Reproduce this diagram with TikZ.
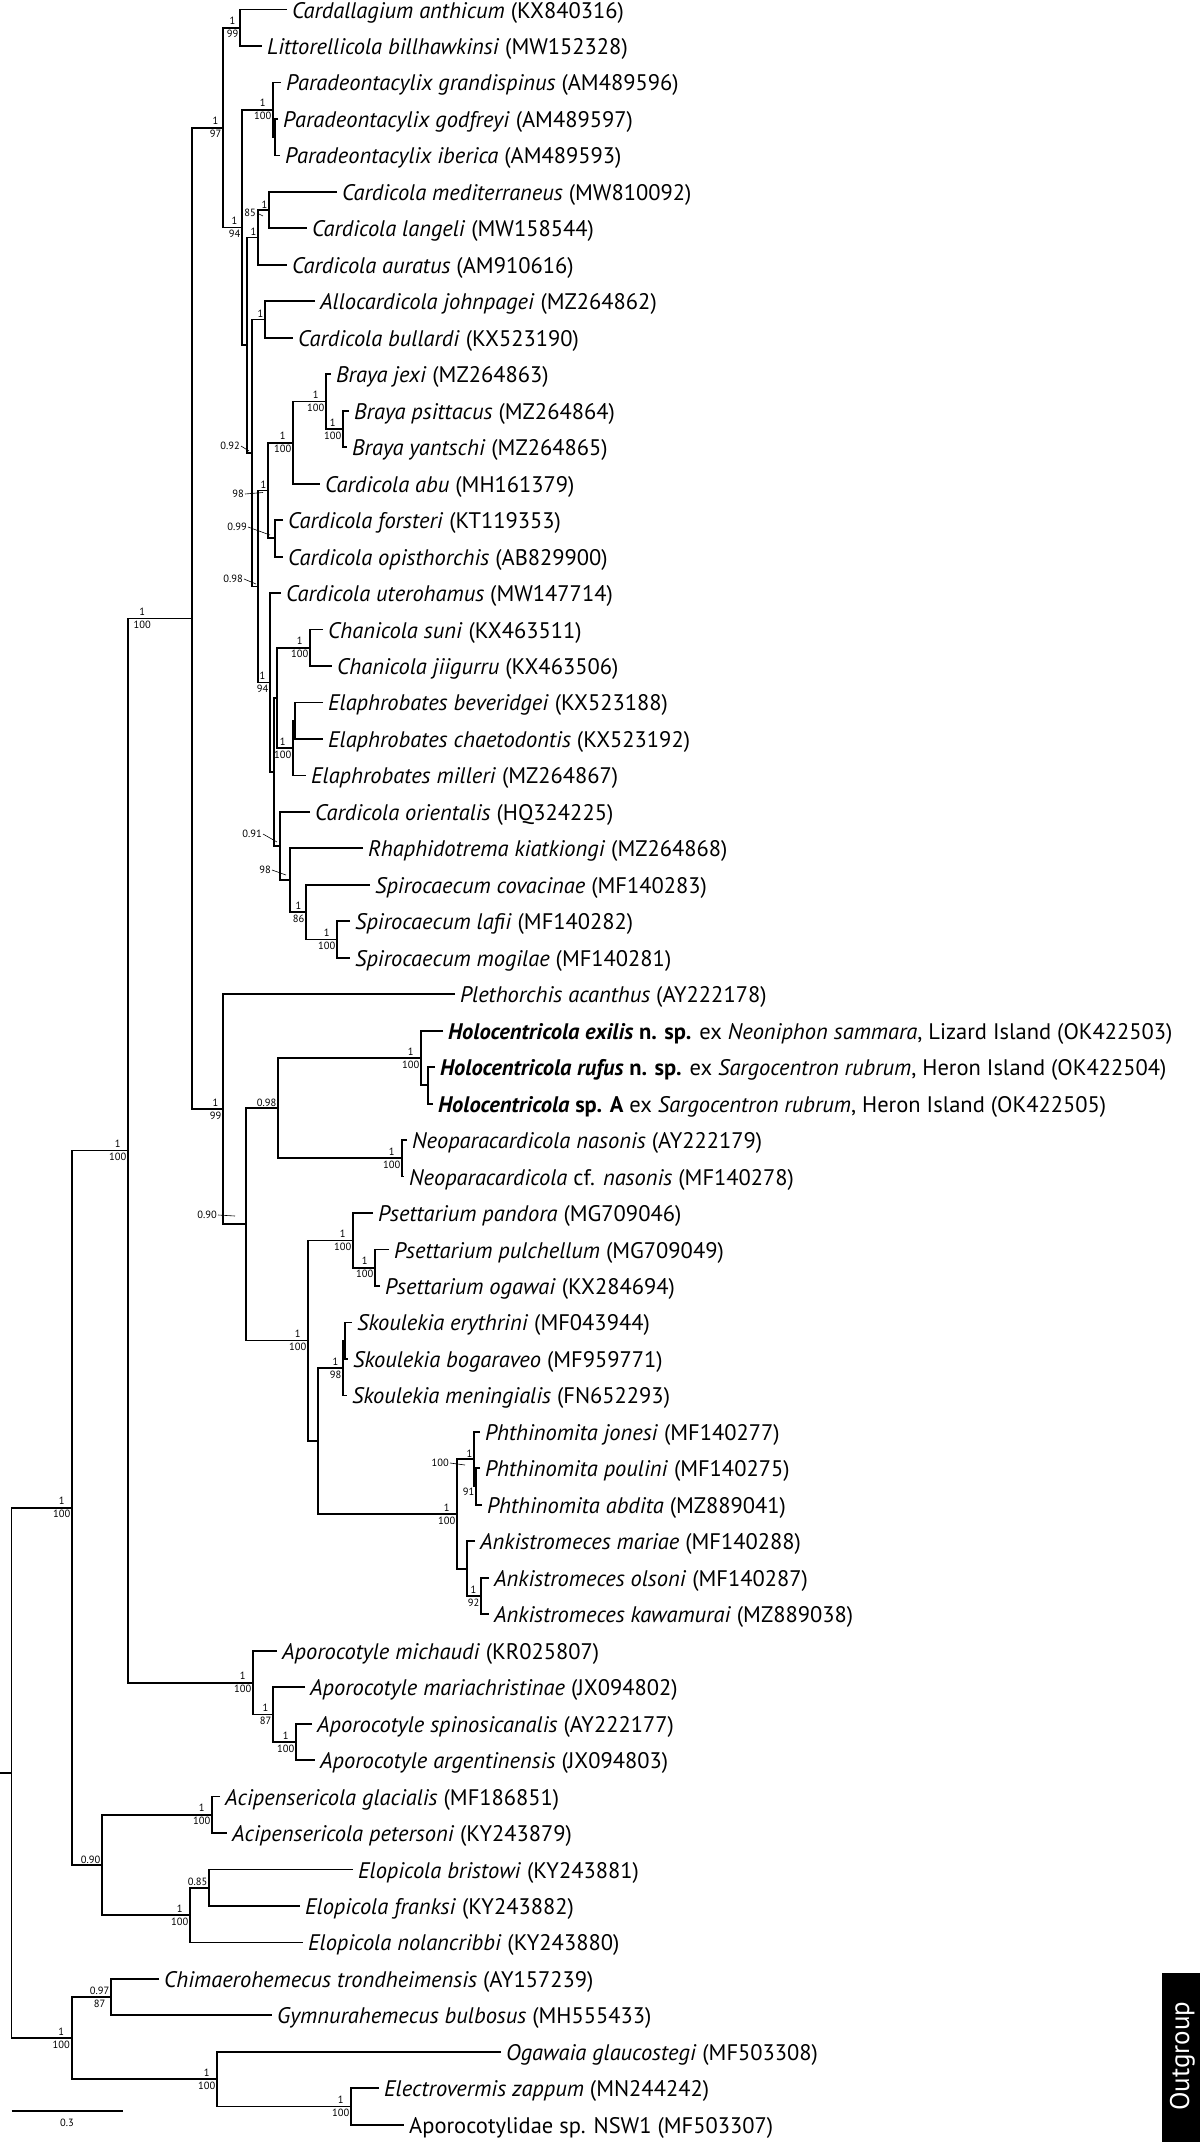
\documentclass[tikz,border=0pt]{standalone}
\usepackage{fontspec}
\setmainfont{PT Sans}
\usepackage{tikz}
\newcommand{\tipfont}{\fontsize{22.5}{25}\selectfont}
\newcommand{\bsfont}{\fontsize{10.5}{13}\selectfont}

\begin{document}
\begin{tikzpicture}[x=1pt,y=1pt,yscale=-1,
  br/.style={line width=1.8pt},
  tip/.style={anchor=west,inner xsep=5pt,inner ysep=0pt,text height=17pt,text depth=0pt,font=\tipfont},
  sp/.style={anchor=east,align=center,inner sep=1.5pt,font=\bsfont},
  pp/.style={anchor=south east,inner sep=1.5pt,font=\bsfont},
  bs/.style={anchor=north east,inner sep=1.5pt,font=\bsfont},
  lbl/.style={anchor=east,inner sep=1pt,font=\bsfont},
  ldr/.style={line width=0.6pt}]
\useasboundingbox (0,0) rectangle (1200,2142);
%Leaves
\path (287,9.5) coordinate (canth) node[tip] (tcanth) {\textit{Cardallagium anthicum} (KX840316)};
\path (262,46.0) coordinate (lbill) node[tip] (tlbill) {\textit{Littorellicola billhawkinsi} (MW152328)};
\path (281,82.4) coordinate (pgran) node[tip] (tpgran) {\textit{Paradeontacylix grandispinus} (AM489596)};
\path (278,118.9) coordinate (pgodf) node[tip] (tpgodf) {\textit{Paradeontacylix godfreyi} (AM489597)};
\path (280,155.4) coordinate (piber) node[tip] (tpiber) {\textit{Paradeontacylix iberica} (AM489593)};
\path (337,191.9) coordinate (cmedi) node[tip] (tcmedi) {\textit{Cardicola mediterraneus} (MW810092)};
\path (307,228.3) coordinate (clang) node[tip] (tclang) {\textit{Cardicola langeli} (MW158544)};
\path (287,264.8) coordinate (caura) node[tip] (tcaura) {\textit{Cardicola auratus} (AM910616)};
\path (315,301.3) coordinate (ajohn) node[tip] (tajohn) {\textit{Allocardicola johnpagei} (MZ264862)};
\path (293,337.7) coordinate (cbull) node[tip] (tcbull) {\textit{Cardicola bullardi} (KX523190)};
\path (331,374.2) coordinate (bjexi) node[tip] (tbjexi) {\textit{Braya jexi} (MZ264863)};
\path (349,410.7) coordinate (bpsit) node[tip] (tbpsit) {\textit{Braya psittacus} (MZ264864)};
\path (347,447.1) coordinate (byant) node[tip] (tbyant) {\textit{Braya yantschi} (MZ264865)};
\path (320,483.6) coordinate (cabu) node[tip] (tcabu) {\textit{Cardicola abu} (MH161379)};
\path (283,520.1) coordinate (cfors) node[tip] (tcfors) {\textit{Cardicola forsteri} (KT119353)};
\path (283,556.6) coordinate (copis) node[tip] (tcopis) {\textit{Cardicola opisthorchis} (AB829900)};
\path (281,593.0) coordinate (cuter) node[tip] (tcuter) {\textit{Cardicola uterohamus} (MW147714)};
\path (323,629.5) coordinate (csuni) node[tip] (tcsuni) {\textit{Chanicola suni} (KX463511)};
\path (332,666.0) coordinate (cjiig) node[tip] (tcjiig) {\textit{Chanicola jiigurru} (KX463506)};
\path (323,702.4) coordinate (ebeve) node[tip] (tebeve) {\textit{Elaphrobates beveridgei} (KX523188)};
\path (323,738.9) coordinate (echae) node[tip] (techae) {\textit{Elaphrobates chaetodontis} (KX523192)};
\path (306,775.4) coordinate (emill) node[tip] (temill) {\textit{Elaphrobates milleri} (MZ264867)};
\path (310,811.8) coordinate (corie) node[tip] (tcorie) {\textit{Cardicola orientalis} (HQ324225)};
\path (363,848.3) coordinate (rkiat) node[tip] (trkiat) {\textit{Rhaphidotrema kiatkiongi} (MZ264868)};
\path (370,884.8) coordinate (scova) node[tip] (tscova) {\textit{Spirocaecum covacinae} (MF140283)};
\path (350,921.3) coordinate (slafi) node[tip] (tslafi) {\textit{Spirocaecum lafii} (MF140282)};
\path (350,957.7) coordinate (smogi) node[tip] (tsmogi) {\textit{Spirocaecum mogilae} (MF140281)};
\path (455,994.2) coordinate (pacan) node[tip] (tpacan) {\textit{Plethorchis acanthus} (AY222178)};
\path (443,1030.7) coordinate (hexil) node[tip] (thexil) {\textbf{\textit{Holocentricola exilis} n. sp.} ex \textit{Neoniphon sammara}, Lizard Island (OK422503)};
\path (435,1067.1) coordinate (hrufu) node[tip] (threfu) {\textbf{\textit{Holocentricola rufus} n. sp.} ex \textit{Sargocentron rubrum}, Heron Island (OK422504)};
\path (433,1103.6) coordinate (hspA) node[tip] (thspA) {\textbf{\textit{Holocentricola} sp. A} ex \textit{Sargocentron rubrum}, Heron Island (OK422505)};
\path (407,1140.1) coordinate (nnaso) node[tip] (tnnaso) {\textit{Neoparacardicola nasonis} (AY222179)};
\path (404,1176.5) coordinate (ncfna) node[tip] (tncfna) {\textit{Neoparacardicola} cf. \textit{nasonis} (MF140278)};
\path (373,1213.0) coordinate (ppand) node[tip] (tppand) {\textit{Psettarium pandora} (MG709046)};
\path (389,1249.5) coordinate (ppulc) node[tip] (tppulc) {\textit{Psettarium pulchellum} (MG709049)};
\path (380,1286.0) coordinate (pogaw) node[tip] (tpogaw) {\textit{Psettarium ogawai} (KX284694)};
\path (352,1322.4) coordinate (seryt) node[tip] (tseryt) {\textit{Skoulekia erythrini} (MF043944)};
\path (348,1358.9) coordinate (sboga) node[tip] (tsboga) {\textit{Skoulekia bogaraveo} (MF959771)};
\path (347,1395.4) coordinate (smeni) node[tip] (tsmeni) {\textit{Skoulekia meningialis} (FN652293)};
\path (480,1431.8) coordinate (pjone) node[tip] (tpjone) {\textit{Phthinomita jonesi} (MF140277)};
\path (480,1468.3) coordinate (ppoul) node[tip] (tppoul) {\textit{Phthinomita poulini} (MF140275)};
\path (482,1504.8) coordinate (pabdi) node[tip] (tpabdi) {\textit{Phthinomita abdita} (MZ889041)};
\path (475,1541.2) coordinate (amari) node[tip] (tamari) {\textit{Ankistromeces mariae} (MF140288)};
\path (489,1577.7) coordinate (aolso) node[tip] (taolso) {\textit{Ankistromeces olsoni} (MF140287)};
\path (489,1614.2) coordinate (akawa) node[tip] (takawa) {\textit{Ankistromeces kawamurai} (MZ889038)};
\path (277,1650.7) coordinate (amich) node[tip] (tamich) {\textit{Aporocotyle michaudi} (KR025807)};
\path (305,1687.1) coordinate (amarc) node[tip] (tamarc) {\textit{Aporocotyle mariachristinae} (JX094802)};
\path (312,1723.6) coordinate (aspin) node[tip] (taspin) {\textit{Aporocotyle spinosicanalis} (AY222177)};
\path (315,1760.1) coordinate (aarge) node[tip] (taarge) {\textit{Aporocotyle argentinensis} (JX094803)};
\path (220,1796.5) coordinate (aglac) node[tip] (taglac) {\textit{Acipensericola glacialis} (MF186851)};
\path (227,1833.0) coordinate (apete) node[tip] (tapete) {\textit{Acipensericola petersoni} (KY243879)};
\path (353,1869.5) coordinate (ebris) node[tip] (tebris) {\textit{Elopicola bristowi} (KY243881)};
\path (300,1905.9) coordinate (efran) node[tip] (tefran) {\textit{Elopicola franksi} (KY243882)};
\path (303,1942.4) coordinate (enola) node[tip] (tenola) {\textit{Elopicola nolancribbi} (KY243880)};
\path (159,1978.9) coordinate (ctron) node[tip] (tctron) {\textit{Chimaerohemecus trondheimensis} (AY157239)};
\path (272,2015.3) coordinate (gbulb) node[tip] (tgbulb) {\textit{Gymnurahemecus bulbosus} (MH555433)};
\path (501,2051.8) coordinate (oglau) node[tip] (toglau) {\textit{Ogawaia glaucostegi} (MF503308)};
\path (379,2088.3) coordinate (ezapp) node[tip] (tezapp) {\textit{Electrovermis zappum} (MN244242)};
\path (404,2124.8) coordinate (answ) node[tip] (tansw) {Aporocotylidae sp. NSW1 (MF503307)};
%Internal nodes
\coordinate (nCL) at (240,27.75);
\coordinate (nPgi) at (275,137.15);
\coordinate (nPara) at (273,109.8);
\coordinate (nML) at (269,210.1);
\coordinate (nAur) at (258,237.45);
\coordinate (nAJ) at (265,319.5);
\coordinate (nBr2) at (343,428.9);
\coordinate (nBr) at (326,401.55);
\coordinate (nBA) at (293,442.6);
\coordinate (nFO) at (275,538.35);
\coordinate (n98a) at (268,490.5);
\coordinate (nChan) at (310,647.75);
\coordinate (nElab) at (295,720.65);
\coordinate (nElap) at (293,748.0);
\coordinate (nCE) at (277,697.9);
\coordinate (nSlm) at (337,939.5);
\coordinate (n86) at (306,912.15);
\coordinate (n98b) at (290,880.2);
\coordinate (n091) at (280,846.0);
\coordinate (n770) at (274,771.95);
\coordinate (n94b) at (270,682.5);
\coordinate (n098) at (258,586.5);
\coordinate (n092) at (252,453.0);
\coordinate (n247) at (247,345.2);
\coordinate (n94a) at (242,227.5);
\coordinate (n97) at (223,127.6);
\coordinate (nHr) at (428,1085.35);
\coordinate (nHolo) at (421,1058.0);
\coordinate (nNeo) at (402,1158.3);
\coordinate (n098h) at (278,1108.15);
\coordinate (nPp) at (375,1267.75);
\coordinate (nPs) at (353,1240.4);
\coordinate (nSkb) at (345,1340.65);
\coordinate (nSk) at (343,1368.0);
\coordinate (nPpa) at (476,1486.55);
\coordinate (nPh) at (474,1459.2);
\coordinate (nAok) at (481,1595.95);
\coordinate (nAnk) at (467,1568.6);
\coordinate (nPA) at (457,1513.9);
\coordinate (nSPA) at (318,1440.6);
\coordinate (nPSk) at (308,1340.5);
\coordinate (n090h) at (246,1224.3);
\coordinate (n99) at (223,1109.25);
\coordinate (nC) at (192,618.4);
\coordinate (nSA) at (296,1741.85);
\coordinate (n87) at (273,1714.5);
\coordinate (nAp) at (253,1682.6);
\coordinate (nB) at (128,1150.5);
\coordinate (nAc) at (212,1814.75);
\coordinate (nEl85) at (209,1887.7);
\coordinate (nEl) at (190,1915.05);
\coordinate (n090e) at (102,1864.9);
\coordinate (nIn) at (72,1507.7);
\coordinate (nChim) at (111,1997.1);
\coordinate (nElec) at (351,2106.55);
\coordinate (nOg) at (217,2079.2);
\coordinate (nOut) at (71.6,2038.15);
\coordinate (root) at (11.5,1772.9);
\coordinate (stem) at (0,1772.9);
%Branches
\draw[br] (canth) -| (nCL) |- (lbill);
\draw[br] (pgodf) -| (nPgi) |- (piber);
\draw[br] (pgran) -| (nPara) |- (nPgi);
\draw[br] (cmedi) -| (nML) |- (clang);
\draw[br] (nML) -| (nAur) |- (caura);
\draw[br] (ajohn) -| (nAJ) |- (cbull);
\draw[br] (bpsit) -| (nBr2) |- (byant);
\draw[br] (bjexi) -| (nBr) |- (nBr2);
\draw[br] (nBr) -| (nBA) |- (cabu);
\draw[br] (cfors) -| (nFO) |- (copis);
\draw[br] (nBA) -| (n98a) |- (nFO);
\draw[br] (csuni) -| (nChan) |- (cjiig);
\draw[br] (ebeve) -| (nElab) |- (echae);
\draw[br] (nElab) -| (nElap) |- (emill);
\draw[br] (nChan) -| (nCE) |- (nElap);
\draw[br] (slafi) -| (nSlm) |- (smogi);
\draw[br] (scova) -| (n86) |- (nSlm);
\draw[br] (rkiat) -| (n98b) |- (n86);
\draw[br] (corie) -| (n091) |- (n98b);
\draw[br] (nCE) -| (n770) |- (n091);
\draw[br] (cuter) -| (n94b) |- (n770);
\draw[br] (n98a) -| (n098) |- (n94b);
\draw[br] (nAJ) -| (n092) |- (n098);
\draw[br] (nAur) -| (n247) |- (n092);
\draw[br] (nPara) -| (n94a) |- (n247);
\draw[br] (nCL) -| (n97) |- (n94a);
\draw[br] (hrufu) -| (nHr) |- (hspA);
\draw[br] (hexil) -| (nHolo) |- (nHr);
\draw[br] (nnaso) -| (nNeo) |- (ncfna);
\draw[br] (nHolo) -| (n098h) |- (nNeo);
\draw[br] (ppulc) -| (nPp) |- (pogaw);
\draw[br] (ppand) -| (nPs) |- (nPp);
\draw[br] (seryt) -| (nSkb) |- (sboga);
\draw[br] (nSkb) -| (nSk) |- (smeni);
\draw[br] (ppoul) -| (nPpa) |- (pabdi);
\draw[br] (pjone) -| (nPh) |- (nPpa);
\draw[br] (aolso) -| (nAok) |- (akawa);
\draw[br] (amari) -| (nAnk) |- (nAok);
\draw[br] (nPh) -| (nPA) |- (nAnk);
\draw[br] (nSk) -| (nSPA) |- (nPA);
\draw[br] (nPs) -| (nPSk) |- (nSPA);
\draw[br] (n098h) -| (n090h) |- (nPSk);
\draw[br] (pacan) -| (n99) |- (n090h);
\draw[br] (n97) -| (nC) |- (n99);
\draw[br] (aspin) -| (nSA) |- (aarge);
\draw[br] (amarc) -| (n87) |- (nSA);
\draw[br] (amich) -| (nAp) |- (n87);
\draw[br] (nC) -| (nB) |- (nAp);
\draw[br] (aglac) -| (nAc) |- (apete);
\draw[br] (ebris) -| (nEl85) |- (efran);
\draw[br] (nEl85) -| (nEl) |- (enola);
\draw[br] (nAc) -| (n090e) |- (nEl);
\draw[br] (nB) -| (nIn) |- (n090e);
\draw[br] (ctron) -| (nChim) |- (gbulb);
\draw[br] (ezapp) -| (nElec) |- (answ);
\draw[br] (oglau) -| (nOg) |- (nElec);
\draw[br] (nChim) -| (nOut) |- (nOg);
\draw[br] (nIn) -| (root) |- (nOut);
\draw[br] (stem) -- (root);
%Support values
\node[sp] (sCL) at (nCL) {1\\99};
\node[sp] (sPara) at (nPara) {1\\100};
\node[pp] (sML) at (nML) {1};
\node[pp] (sAur) at (nAur) {1};
\node[pp] (sAJ) at (nAJ) {1};
\node[sp] (sBr2) at (nBr2) {1\\100};
\node[sp] (sBr) at (nBr) {1\\100};
\node[sp] (sBA) at (nBA) {1\\100};
\node[pp] (s98a) at (n98a) {1};
\node[sp] (sChan) at (nChan) {1\\100};
\node[sp] (sElap) at (nElap) {1\\100};
\node[sp] (sSlm) at (nSlm) {1\\100};
\node[sp] (s86) at (n86) {1\\86};
\node[sp] (s94b) at (n94b) {1\\94};
\node[sp] (s94a) at (n94a) {1\\94};
\node[sp] (s97) at (n97) {1\\97};
\node[sp] (sHolo) at (nHolo) {1\\100};
\node[sp] (sNeo) at (nNeo) {1\\100};
\node[pp] (s098h) at (n098h) {0.98};
\node[sp] (sPs) at (nPs) {1\\100};
\node[sp] (sPp) at (nPp) {1\\100};
\node[sp] (sSk) at (nSk) {1\\98};
\node[pp] (sPh) at (nPh) {1};
\node[bs] (sPpa) at (nPpa) {91};
\node[sp] (sAok) at (nAok) {1\\92};
\node[sp] (sPA) at (nPA) {1\\100};
\node[sp] (sPSk) at (nPSk) {1\\100};
\node[sp] (s99) at (n99) {1\\99};
\node[sp,anchor=west] (sC) at (132,618.4) {1\\100};
\node[sp] (sSA) at (nSA) {1\\100};
\node[sp] (s87) at (n87) {1\\87};
\node[sp] (sAp) at (nAp) {1\\100};
\node[sp] (sB) at (nB) {1\\100};
\node[sp] (sAc) at (nAc) {1\\100};
\node[pp] (sEl85) at (nEl85) {0.85};
\node[sp] (sEl) at (nEl) {1\\100};
\node[pp] (s090e) at (n090e) {0.90};
\node[sp] (sIn) at (nIn) {1\\100};
\node[sp] (sChim) at (nChim) {0.97\\87};
\node[sp] (sElec) at (nElec) {1\\100};
\node[sp] (sOg) at (nOg) {1\\100};
\node[sp] (sOut) at (nOut) {1\\100};
%Leader labels
\coordinate (k85) at (263,216);
\coordinate (k092) at (249,451);
\coordinate (k98a) at (263,492.5);
\coordinate (k099) at (270,535);
\coordinate (k098) at (256,584);
\coordinate (k091) at (277,842);
\coordinate (k98b) at (286,875);
\coordinate (k090) at (235,1216);
\coordinate (k100) at (465,1465);
\node[lbl] (l85) at (257,213) {85};
\node[lbl] (l092) at (241,446) {0.92};
\node[lbl] (l98a) at (245,494) {98};
\node[lbl] (l099) at (248,527) {0.99};
\node[lbl] (l098) at (244,579) {0.98};
\node[lbl] (l091) at (263,834) {0.91};
\node[lbl] (l98b) at (272,870) {98};
\node[lbl] (l090) at (218,1215) {0.90};
\node[lbl] (l100) at (450,1463) {100};
\draw[ldr] (l85.east) -- (k85);
\draw[ldr] (l092.east) -- (k092);
\draw[ldr] (l98a.east) -- (k98a);
\draw[ldr] (l099.east) -- (k099);
\draw[ldr] (l098.east) -- (k098);
\draw[ldr] (l091.east) -- (k091);
\draw[ldr] (l98b.east) -- (k98b);
\draw[ldr] (l090.east) -- (k090);
\draw[ldr] (l100.east) -- (k100);
%Scale bar
\coordinate (sb1) at (11.5,2111);
\coordinate (sb2) at (122.5,2111);
\draw[br] (sb1) -- (sb2);
\node[anchor=north,inner sep=1pt,font=\bsfont] (sbl) at (67,2118) {0.3};
%Outgroup tag
\fill[black] (1162,1973) rectangle (1200,2142);
\node[rotate=90,anchor=base,text=white,inner sep=0pt,font=\fontsize{27}{30}\selectfont] (og) at (1189,2056) {Outgroup};
\end{tikzpicture}
\end{document}
